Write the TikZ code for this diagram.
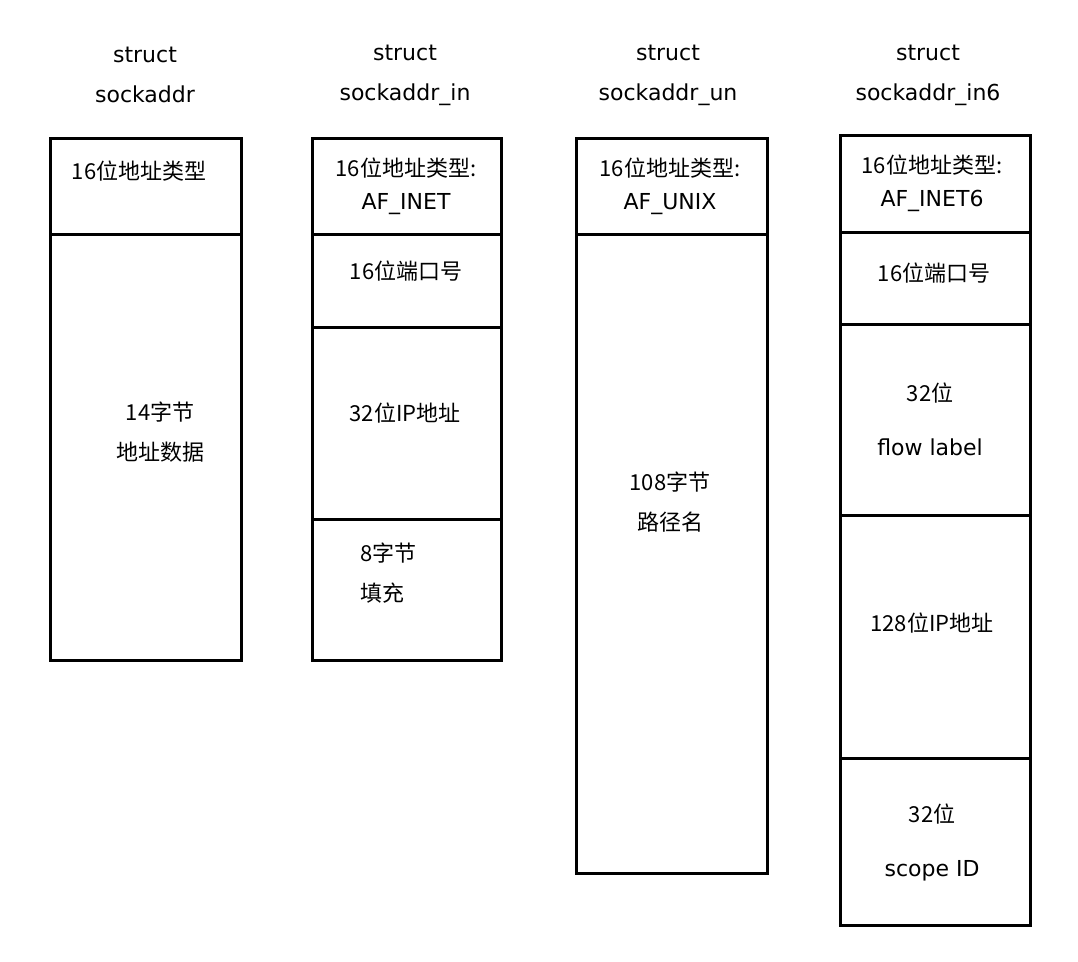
\documentclass[tikz,border=0pt]{standalone}
\usepackage{fontspec}
\setmainfont{DejaVu Sans}
\newfontfamily\cjk{Noto Sans CJK SC}
\tikzset{
  font={\fontsize{22pt}{33pt}\selectfont},
  cell/.style={draw=black, line width=2.6pt, inner sep=0pt, anchor=north west},
  txt/.style={inner sep=0pt, align=center}}

\begin{document}
\begin{tikzpicture}[x=1pt, y=-1pt]
\useasboundingbox (0,0) rectangle (1078,961);
% titles
\node[txt, font={\fontsize{22pt}{40pt}\selectfont}] (t1) at (145,75) {struct\\sockaddr};
\node[txt, font={\fontsize{22pt}{40pt}\selectfont}] (t2) at (405,75) {struct\\sockaddr\_in};
\node[txt, font={\fontsize{22pt}{40pt}\selectfont}] (t3) at (668,75) {struct\\sockaddr\_un};
\node[txt, font={\fontsize{22pt}{40pt}\selectfont}] (t4) at (928,75) {struct\\sockaddr\_in6};
% sockaddr
\node[cell, minimum width=191pt, minimum height=96pt] (a1) at (49,137) {};
\node[cell, minimum width=191pt, minimum height=426pt] (a2) at (49,233) {};
\node[txt] at (139,171) {\cjk 16位地址类型};
\node[txt, font={\fontsize{22pt}{40pt}\selectfont}] at (160,432) {\cjk 14字节\\\cjk 地址数据};
% sockaddr_in
\node[cell, minimum width=189pt, minimum height=96pt] (b1) at (311,137) {};
\node[cell, minimum width=189pt, minimum height=93pt] (b2) at (311,233) {};
\node[cell, minimum width=189pt, minimum height=192pt] (b3) at (311,326) {};
\node[cell, minimum width=189pt, minimum height=141pt] (b4) at (311,518) {};
\node[txt] at (406,186) {\cjk 16位地址类型:\\AF\_INET};
\node[txt] at (406,271) {\cjk 16位端口号};
\node[txt] at (405,413) {\cjk 32位IP地址};
\node[txt, align=left, anchor=west, font={\fontsize{22pt}{40pt}\selectfont}] at (360,573) {\cjk 8字节\\\cjk 填充};
% sockaddr_un
\node[cell, minimum width=191pt, minimum height=96pt] (c1) at (575,137) {};
\node[cell, minimum width=191pt, minimum height=639pt] (c2) at (575,233) {};
\node[txt] at (670,186) {\cjk 16位地址类型:\\AF\_UNIX};
\node[txt, font={\fontsize{22pt}{40pt}\selectfont}] at (670,502) {\cjk 108字节\\\cjk 路径名};
% sockaddr_in6
\node[cell, minimum width=190pt, minimum height=97pt] (d1) at (839,134) {};
\node[cell, minimum width=190pt, minimum height=92pt] (d2) at (839,231) {};
\node[cell, minimum width=190pt, minimum height=191pt] (d3) at (839,323) {};
\node[cell, minimum width=190pt, minimum height=243pt] (d4) at (839,514) {};
\node[cell, minimum width=190pt, minimum height=167pt] (d5) at (839,757) {};
\node[txt] at (932,183) {\cjk 16位地址类型:\\AF\_INET6};
\node[txt] at (934,273) {\cjk 16位端口号};
\node[txt, font={\fontsize{22pt}{54pt}\selectfont}] at (930,419) {\cjk 32位\\flow label};
\node[txt] at (932,623) {\cjk 128位IP地址};
\node[txt, font={\fontsize{22pt}{54pt}\selectfont}] at (932,842) {\cjk 32位\\scope ID};
\end{tikzpicture}
\end{document}
